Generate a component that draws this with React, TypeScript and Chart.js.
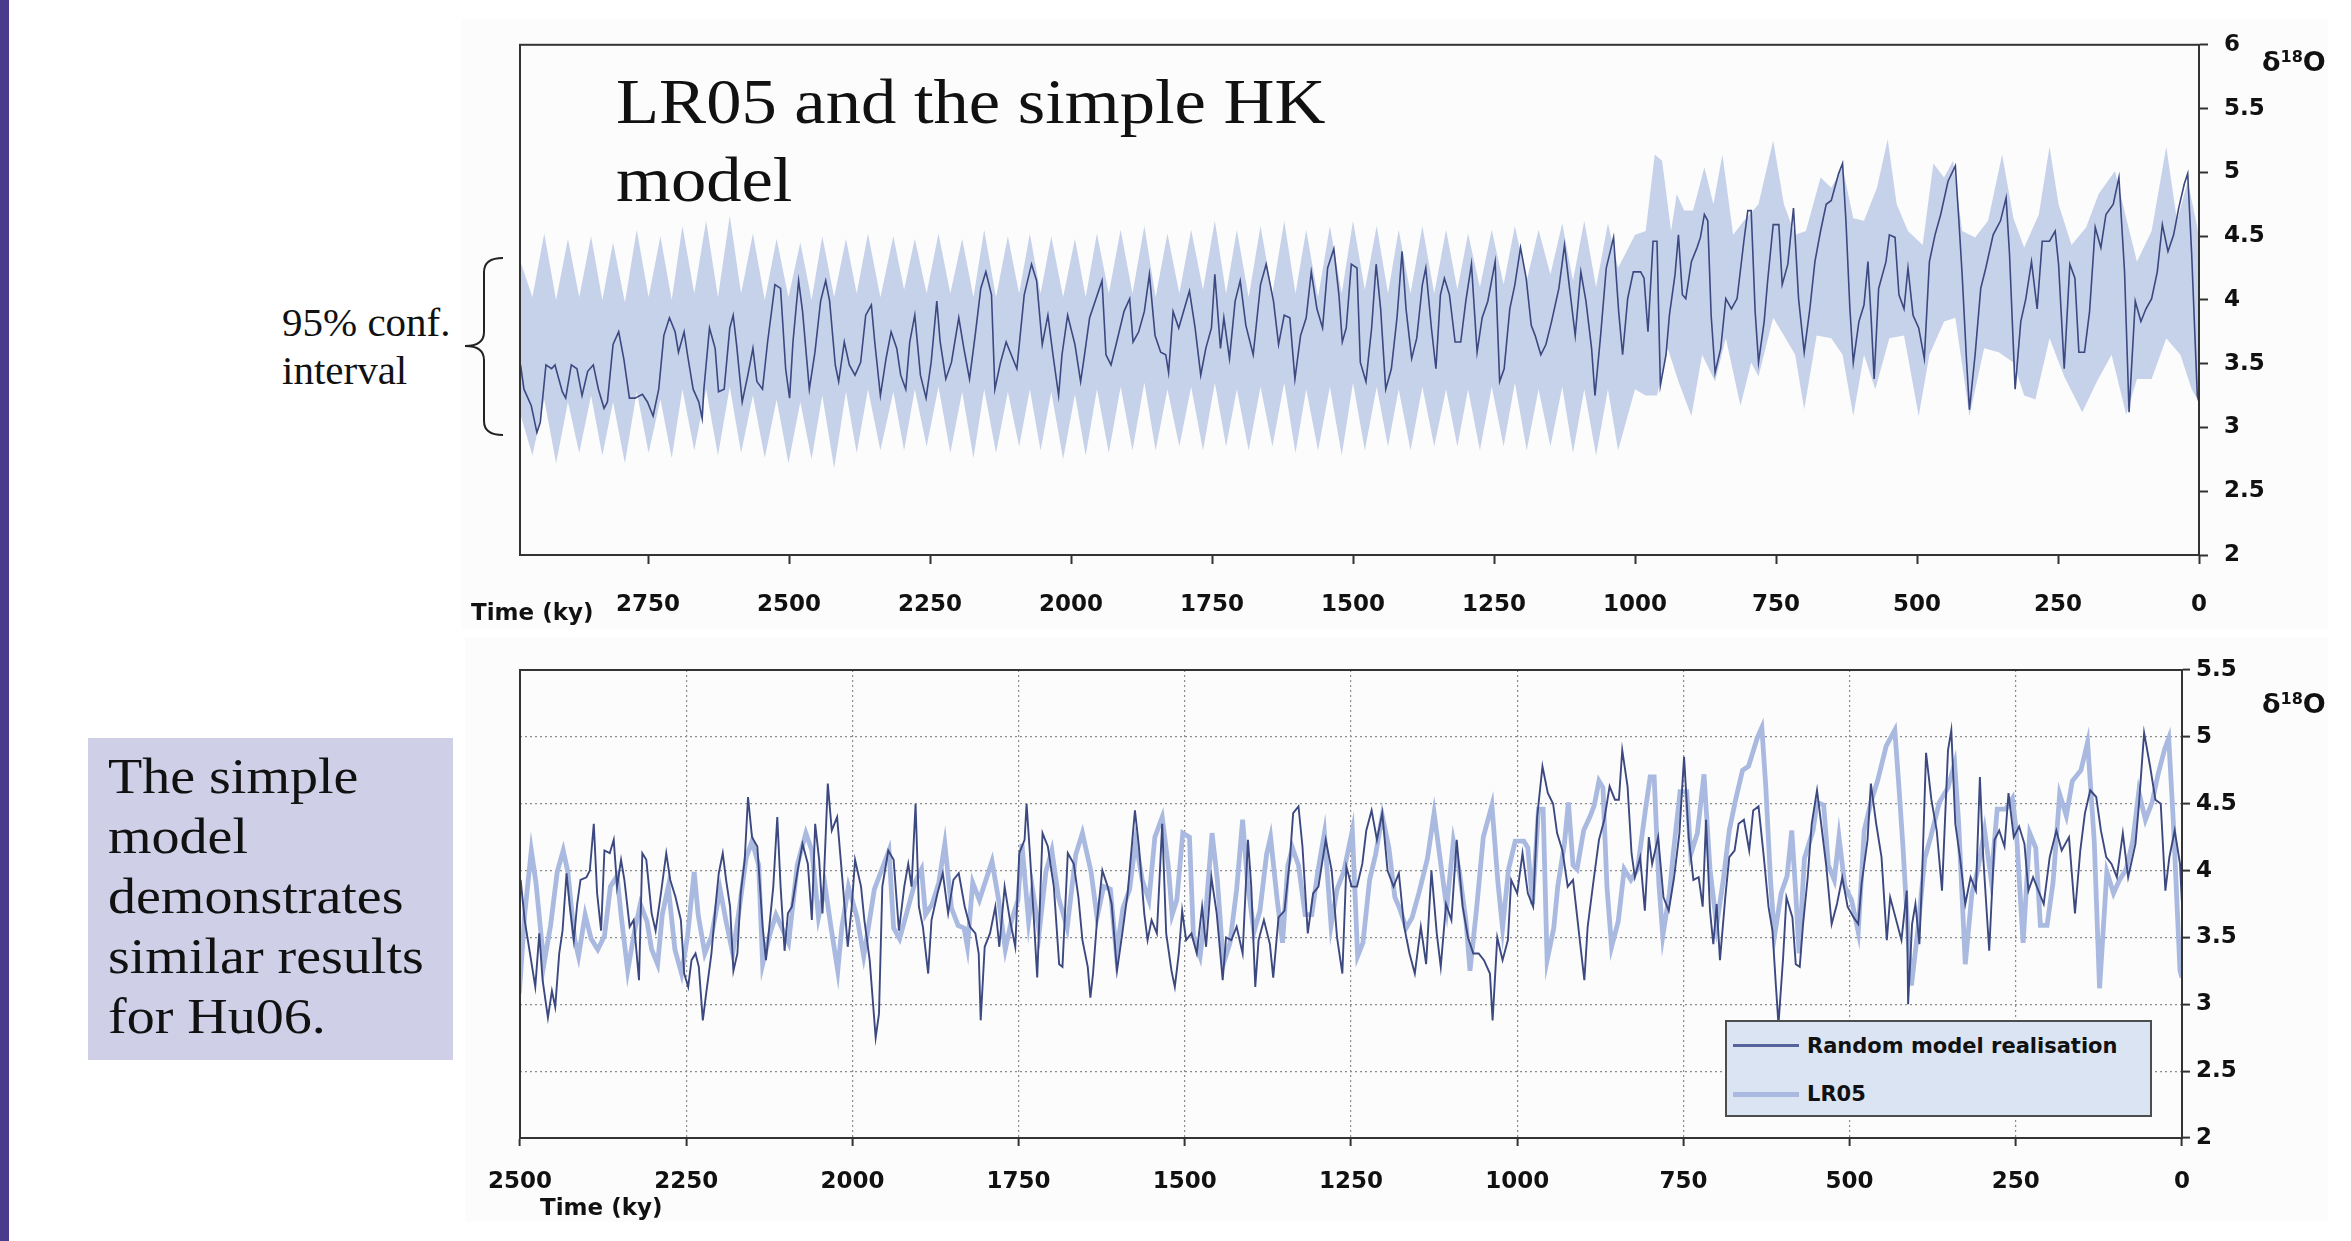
import React, { useEffect, useRef } from 'react';
import { Chart, registerables } from 'chart.js';

Chart.register(...registerables);

// ---------- DATA (ky before present, delta18O) ----------
// LR05 benthic stack (also drawn light in the lower panel)
const lr05: number[][] = [
  [2976,3.49],[2970,3.30],[2957,3.17],[2947,2.96],[2941,3.04],[2931,3.49],[2921,3.46],[2915,3.49],[2902,3.28],[2896,3.23],
  [2886,3.49],[2876,3.46],[2867,3.25],[2857,3.44],[2847,3.49],[2838,3.30],[2828,3.15],[2822,3.20],[2812,3.65],[2802,3.75],
  [2793,3.54],[2783,3.23],[2773,3.23],[2760,3.26],[2751,3.20],[2741,3.09],[2731,3.30],[2722,3.72],[2712,3.86],[2702,3.75],
  [2696,3.59],[2686,3.75],[2680,3.57],[2670,3.30],[2660,3.20],[2654,3.07],[2651,3.30],[2641,3.78],[2631,3.62],[2625,3.28],
  [2615,3.30],[2605,3.78],[2599,3.88],[2593,3.65],[2583,3.20],[2573,3.41],[2564,3.62],[2557,3.36],[2547,3.30],[2538,3.67],
  [2531,3.91],[2525,4.12],[2515,4.09],[2506,3.46],[2499,3.23],[2493,3.67],[2483,4.15],[2476,3.91],[2464,3.30],[2454,3.59],
  [2444,3.99],[2435,4.15],[2428,3.99],[2418,3.49],[2412,3.36],[2402,3.67],[2393,3.49],[2383,3.41],[2373,3.51],[2364,3.88],
  [2354,3.96],[2348,3.67],[2338,3.25],[2328,3.54],[2319,3.75],[2309,3.62],[2302,3.41],[2293,3.30],[2286,3.67],[2277,3.88],
  [2267,3.41],[2257,3.23],[2248,3.51],[2238,3.99],[2232,3.67],[2222,3.38],[2212,3.51],[2199,3.86],[2190,3.62],[2180,3.38],
  [2170,3.72],[2160,4.09],[2151,4.22],[2141,4.04],[2135,3.30],[2125,3.51],[2115,3.67],[2106,3.57],[2096,3.46],[2083,4.04],
  [2070,4.28],[2061,4.15],[2051,3.65],[2041,3.88],[2032,3.57],[2022,3.25],[2016,3.57],[2006,3.88],[1993,3.65],[1983,3.36],
  [1977,3.54],[1967,3.86],[1945,4.15],[1938,3.57],[1929,3.49],[1919,3.67],[1906,3.91],[1896,4.01],[1890,3.67],[1880,3.75],
  [1870,3.91],[1861,4.20],[1851,3.72],[1841,3.59],[1832,3.57],[1827,3.43],[1819,3.91],[1809,3.78],[1790,4.07],[1780,3.78],
  [1770,3.41],[1761,3.62],[1751,3.78],[1745,4.20],[1735,3.62],[1729,3.86],[1719,3.54],[1709,3.99],[1700,4.15],[1690,3.80],
  [1677,3.57],[1664,4.12],[1654,4.28],[1641,3.99],[1632,3.65],[1622,3.88],[1612,3.86],[1603,3.38],[1593,3.72],[1583,3.86],
  [1574,4.22],[1564,3.93],[1554,3.78],[1545,4.25],[1534,4.40],[1525,4.04],[1519,3.67],[1512,3.78],[1503,4.28],[1493,4.25],
  [1487,3.51],[1477,3.36],[1467,3.78],[1459,4.28],[1451,3.93],[1442,3.30],[1432,3.46],[1422,3.86],[1413,4.38],[1406,3.93],
  [1396,3.54],[1387,3.70],[1377,4.12],[1371,4.25],[1361,3.78],[1353,3.46],[1345,4.04],[1338,4.17],[1329,4.04],[1319,3.67],
  [1309,3.67],[1300,3.99],[1290,4.28],[1280,3.59],[1271,3.86],[1261,3.99],[1248,4.30],[1240,3.36],[1232,3.46],[1222,3.93],
  [1213,4.12],[1203,4.41],[1193,4.17],[1184,3.80],[1177,3.72],[1167,3.57],[1158,3.65],[1148,3.83],[1135,4.09],[1125,4.43],
  [1116,4.09],[1106,3.72],[1096,4.22],[1087,3.99],[1077,3.62],[1071,3.25],[1061,3.72],[1051,4.25],[1038,4.49],[1029,3.91],
  [1022,3.57],[1013,4.01],[1003,4.22],[990,4.22],[984,4.17],[977,3.75],[968,4.46],[961,4.46],[955,3.33],[945,3.57],
  [939,3.88],[929,4.20],[923,4.51],[916,4.04],[910,4.01],[900,4.30],[890,4.41],[884,4.49],[877,4.67],[871,4.62],
  [865,3.88],[858,3.43],[848,3.62],[839,4.01],[829,3.93],[819,4.01],[807,4.46],[800,4.70],[794,4.70],[787,3.91],
  [781,3.51],[771,3.83],[765,4.14],[755,4.59],[745,4.59],[739,4.12],[729,4.28],[719,4.72],[710,4.01],[700,3.59],
  [690,3.93],[681,4.30],[671,4.54],[661,4.75],[652,4.78],[639,4.99],[632,5.07],[626,4.62],[619,3.93],[613,3.51],
  [603,3.83],[594,3.96],[587,4.30],[581,3.83],[576,3.38],[568,4.09],[555,4.30],[549,4.51],[539,4.49],[532,4.04],
  [523,3.93],[516,4.25],[507,3.88],[497,3.78],[487,3.54],[478,4.30],[468,4.51],[458,4.67],[445,4.93],[432,5.05],
  [426,4.64],[420,4.20],[412,3.51],[407,3.14],[397,3.57],[387,4.09],[378,4.25],[365,4.51],[352,4.62],[342,4.80],
  [336,4.36],[326,3.30],[316,3.83],[307,4.01],[297,4.30],[287,3.93],[278,4.46],[265,4.46],[255,4.54],[249,4.28],
  [239,3.46],[229,4.28],[220,4.17],[213,3.59],[203,3.59],[194,3.91],[184,4.57],[174,4.41],[165,4.67],[152,4.75],
  [142,4.96],[132,4.22],[124,3.12],[113,3.99],[103,3.83],[94,3.93],[84,4.01],[74,4.22],[65,4.59],[55,4.38],
  [45,4.51],[36,4.72],[26,4.91],[20,4.99],[13,4.36],[3,3.25],[0,3.20],
];

// 95% confidence interval of the simple HK model (upper / lower edge)
const bandUpper: number[][] = [
  [2976,4.30],[2955,4.02],[2934,4.52],[2913,4.00],[2892,4.48],[2872,4.02],[2851,4.50],[2831,4.00],[2812,4.45],[2791,3.98],
  [2770,4.55],[2749,4.02],[2728,4.50],[2708,4.00],[2689,4.58],[2668,4.05],[2647,4.62],[2626,4.02],[2605,4.66],[2585,4.05],
  [2564,4.52],[2543,4.00],[2522,4.48],[2501,4.02],[2480,4.45],[2460,4.00],[2441,4.50],[2420,4.02],[2399,4.48],[2380,4.05],
  [2360,4.52],[2338,4.02],[2315,4.50],[2296,4.08],[2277,4.48],[2256,4.05],[2235,4.52],[2214,4.05],[2193,4.48],[2173,4.02],
  [2154,4.55],[2133,4.02],[2112,4.50],[2092,4.05],[2073,4.52],[2054,4.05],[2035,4.50],[2014,4.02],[1993,4.48],[1974,4.02],
  [1954,4.52],[1933,4.05],[1912,4.55],[1891,4.05],[1870,4.58],[1850,4.02],[1829,4.52],[1808,4.05],[1787,4.55],[1766,4.08],
  [1745,4.62],[1725,4.05],[1706,4.55],[1685,4.02],[1664,4.58],[1643,4.05],[1622,4.62],[1602,4.05],[1583,4.55],[1562,4.02],
  [1541,4.58],[1520,4.05],[1500,4.62],[1479,4.08],[1458,4.58],[1438,4.05],[1419,4.55],[1398,4.05],[1377,4.58],[1356,4.05],
  [1335,4.55],[1315,4.08],[1296,4.52],[1275,4.10],[1254,4.55],[1233,4.12],[1213,4.58],[1192,4.15],[1171,4.55],[1150,4.20],
  [1129,4.60],[1110,4.15],[1090,4.62],[1069,4.10],[1048,4.60],[1030,4.25],
  [1000,4.51],[981,4.54],[965,5.14],[952,5.09],[936,4.54],[926,4.83],[913,4.70],[897,4.70],[877,5.04],[861,4.75],
  [845,5.14],[826,4.51],[807,4.62],[781,4.75],[755,5.25],[736,4.75],[716,4.51],[697,4.54],[671,4.96],[652,4.88],
  [632,5.04],[613,4.64],[594,4.62],[571,4.88],[552,5.26],[536,4.75],[516,4.54],[490,4.43],[471,5.07],[452,4.96],
  [436,5.09],[420,4.54],[397,4.49],[374,4.62],[349,5.14],[329,4.64],[310,4.41],[284,4.67],[265,5.20],[249,4.75],
  [226,4.43],[200,4.57],[178,4.83],[149,5.01],[129,4.64],[110,4.30],[84,4.54],[58,5.20],[39,4.62],[20,4.93],
  [3,4.57],[0,4.45],
];
const bandLower: number[][] = [
  [2976,3.10],[2955,2.78],[2934,3.22],[2913,2.72],[2892,3.20],[2872,2.80],[2851,3.25],[2831,2.78],[2812,3.20],[2791,2.72],
  [2770,3.28],[2749,2.80],[2728,3.22],[2708,2.76],[2689,3.30],[2668,2.82],[2647,3.30],[2626,2.78],[2605,3.32],[2585,2.80],
  [2564,3.25],[2543,2.76],[2522,3.22],[2501,2.72],[2480,3.20],[2460,2.75],[2441,3.25],[2420,2.68],[2399,3.28],[2380,2.80],
  [2360,3.30],[2338,2.82],[2315,3.28],[2296,2.82],[2277,3.30],[2256,2.85],[2235,3.32],[2214,2.80],[2193,3.28],[2173,2.76],
  [2154,3.30],[2133,2.80],[2112,3.28],[2092,2.85],[2073,3.30],[2054,2.82],[2035,3.28],[2014,2.75],[1993,3.26],[1974,2.78],
  [1954,3.30],[1933,2.80],[1912,3.32],[1891,2.82],[1870,3.35],[1850,2.82],[1829,3.30],[1808,2.85],[1787,3.32],[1766,2.82],
  [1745,3.35],[1725,2.85],[1706,3.30],[1685,2.82],[1664,3.32],[1643,2.85],[1622,3.35],[1602,2.80],[1583,3.30],[1562,2.82],
  [1541,3.32],[1520,2.78],[1500,3.35],[1479,2.82],[1458,3.32],[1438,2.85],[1419,3.30],[1398,2.82],[1377,3.32],[1356,2.85],
  [1335,3.30],[1315,2.85],[1296,3.30],[1275,2.82],[1254,3.32],[1233,2.85],[1213,3.35],[1192,2.82],[1171,3.30],[1150,2.85],
  [1129,3.32],[1110,2.80],[1090,3.30],[1069,2.78],[1048,3.30],[1030,2.82],
  [1000,3.30],[981,3.25],[961,3.25],[942,3.62],[923,3.36],[900,3.09],[881,3.57],[858,3.36],[839,3.70],[813,3.17],
  [794,3.51],[781,3.40],[755,3.86],[736,3.72],[716,3.57],[700,3.14],[678,3.72],[652,3.70],[632,3.57],[613,3.09],
  [594,3.57],[574,3.30],[549,3.70],[523,3.72],[497,3.09],[478,3.57],[452,3.83],[432,3.86],[407,3.09],[381,3.62],
  [355,3.59],[329,3.51],[310,3.25],[290,3.22],[265,3.70],[239,3.40],[207,3.12],[181,3.36],[155,3.57],[129,3.10],
  [110,3.38],[84,3.38],[58,3.70],[33,3.57],[13,3.30],[0,3.20],
];

// One random realisation of the simple model (lower panel, dark line)
const randomModel: number[][] = [
  [2499,3.93],[2493,3.63],[2485,3.38],[2477,3.13],[2471,3.53],[2466,3.18],[2458,2.90],[2452,3.10],[2447,2.98],[2441,3.38],
  [2436,3.55],[2430,3.98],[2425,3.73],[2419,3.48],[2414,3.75],[2409,3.93],[2400,3.95],[2395,4.00],[2389,4.35],[2384,3.83],
  [2378,3.55],[2373,4.15],[2365,4.13],[2359,4.23],[2354,3.88],[2348,4.08],[2343,3.93],[2335,3.58],[2329,3.63],[2321,3.18],
  [2316,4.13],[2310,4.08],[2302,3.68],[2296,3.55],[2288,3.83],[2280,4.13],[2274,3.93],[2266,3.80],[2258,3.63],[2253,3.23],
  [2247,3.13],[2242,3.33],[2236,3.38],[2231,3.28],[2225,2.88],[2220,3.08],[2212,3.38],[2206,3.73],[2201,3.98],[2195,4.13],
  [2190,3.93],[2184,3.73],[2179,3.25],[2173,3.38],[2168,3.83],[2162,4.08],[2157,4.55],[2151,4.25],[2143,4.18],[2135,3.58],
  [2130,3.33],[2124,3.63],[2119,3.88],[2113,4.40],[2108,3.88],[2102,3.40],[2097,3.68],[2091,3.73],[2083,3.98],[2075,4.20],
  [2067,4.05],[2061,3.63],[2056,4.35],[2050,4.08],[2045,3.68],[2037,4.65],[2031,4.30],[2023,4.40],[2015,3.93],[2007,3.43],
  [2001,3.73],[1996,4.08],[1987,3.88],[1982,3.63],[1974,3.33],[1965,2.75],[1960,2.93],[1955,3.88],[1946,4.15],[1938,4.08],
  [1930,3.55],[1922,3.88],[1916,4.05],[1911,3.88],[1905,4.50],[1900,3.73],[1894,3.58],[1886,3.23],[1881,3.63],[1872,3.83],
  [1864,3.98],[1856,3.68],[1848,3.93],[1840,3.98],[1831,3.73],[1823,3.58],[1815,3.53],[1810,3.38],[1807,2.88],[1801,3.43],
  [1793,3.53],[1785,3.73],[1779,3.43],[1771,3.88],[1763,3.63],[1755,3.43],[1749,4.13],[1741,4.23],[1738,4.50],[1733,4.13],
  [1727,3.63],[1722,3.20],[1714,4.28],[1706,4.18],[1697,3.88],[1689,3.30],[1684,3.28],[1676,4.13],[1667,4.05],[1660,3.80],
  [1654,3.48],[1646,3.28],[1642,3.05],[1638,3.23],[1632,3.63],[1624,4.00],[1616,3.88],[1610,3.75],[1602,3.25],[1594,3.53],
  [1586,3.83],[1575,4.45],[1569,4.18],[1561,3.68],[1556,3.48],[1550,3.63],[1542,3.53],[1534,4.35],[1528,3.53],[1520,3.25],
  [1515,3.13],[1509,3.38],[1504,3.70],[1498,3.48],[1490,3.53],[1482,3.38],[1474,3.73],[1468,3.43],[1460,3.95],[1452,3.68],
  [1443,3.18],[1438,3.50],[1430,3.48],[1422,3.58],[1413,3.38],[1405,4.23],[1400,3.88],[1394,3.13],[1389,3.48],[1381,3.63],
  [1372,3.45],[1367,3.20],[1359,3.65],[1350,3.70],[1342,4.08],[1337,4.43],[1329,4.48],[1323,4.18],[1315,3.53],[1307,3.83],
  [1299,3.88],[1288,4.23],[1279,4.00],[1271,3.50],[1263,3.23],[1257,4.03],[1249,3.88],[1241,3.88],[1233,4.05],[1227,4.30],
  [1219,4.45],[1211,4.23],[1203,4.43],[1195,4.00],[1186,3.88],[1178,3.98],[1170,3.58],[1162,3.38],[1154,3.23],[1145,3.58],
  [1137,3.30],[1129,4.00],[1121,3.53],[1115,3.28],[1107,3.75],[1099,3.63],[1091,4.23],[1082,3.73],[1074,3.50],[1066,3.38],
  [1058,3.38],[1050,3.33],[1041,3.23],[1037,2.88],[1030,3.50],[1022,3.33],[1014,3.48],[1009,3.93],[1000,3.83],[992,4.13],
  [984,3.83],[976,3.73],[970,4.40],[962,4.78],[954,4.58],[946,4.50],[940,4.28],[932,4.15],[924,3.88],[916,3.93],
  [907,3.53],[899,3.18],[894,3.58],[885,3.93],[877,4.23],[869,4.38],[861,4.63],[853,4.53],[847,4.53],[842,4.90],
  [834,4.63],[828,4.13],[823,3.95],[815,4.10],[808,3.70],[802,4.25],[797,4.05],[788,4.25],[780,3.80],[772,3.70],
  [764,3.95],[756,4.28],[749,4.85],[742,4.25],[735,3.93],[727,3.95],[721,3.73],[716,4.38],[710,3.70],[705,3.45],
  [700,3.75],[695,3.33],[687,3.80],[681,4.10],[673,4.15],[667,4.35],[659,4.38],[651,4.15],[645,4.45],[637,4.48],
  [629,4.10],[622,3.73],[616,3.55],[611,3.15],[607,2.85],[600,3.35],[595,3.80],[586,3.65],[581,3.30],[575,3.28],
  [570,3.60],[563,3.95],[557,4.35],[549,4.60],[544,4.40],[535,4.03],[527,3.60],[519,3.75],[511,3.95],[503,3.73],
  [494,3.65],[487,3.60],[482,3.90],[473,4.23],[468,4.65],[460,4.35],[452,4.10],[444,3.48],[439,3.80],[431,3.65],
  [422,3.48],[414,3.85],[412,3.00],[406,3.60],[401,3.75],[395,3.45],[391,3.95],[385,4.88],[377,4.53],[369,4.30],
  [361,3.85],[352,4.90],[347,5.05],[341,4.35],[334,4.10],[326,3.75],[318,3.95],[310,3.85],[304,4.70],[299,4.10],
  [290,3.40],[282,4.23],[275,4.30],[267,4.18],[261,4.58],[253,4.25],[245,4.33],[237,4.20],[231,3.85],[224,3.95],
  [216,3.85],[208,3.75],[199,4.10],[189,4.30],[181,4.15],[170,4.25],[161,3.68],[153,4.15],[146,4.43],[138,4.60],
  [129,4.55],[122,4.30],[114,4.10],[106,4.05],[98,3.95],[89,4.28],[81,3.95],[70,4.20],[65,4.48],[57,5.03],
  [48,4.78],[40,4.53],[32,4.50],[25,3.85],[19,4.10],[11,4.30],[3,4.05],[0,3.75],
];

const TOP_X_TICKS = [0, 250, 500, 750, 1000, 1250, 1500, 1750, 2000, 2250, 2500, 2750];
const BOTTOM_X_TICKS = [0, 250, 500, 750, 1000, 1250, 1500, 1750, 2000, 2250, 2500];
const TOP_Y_TICKS = [2, 2.5, 3, 3.5, 4, 4.5, 5, 5.5, 6];
const BOTTOM_Y_TICKS = [2, 2.5, 3, 3.5, 4, 4.5, 5, 5.5];
const TOP_X_MAX = 2977;
const BOTTOM_X_MAX = 2500;

const LEGEND_LABELS = ['Random model realisation', 'LR05'];

// ---------- STYLE ----------
const DARK = '#3c4880';
const LIGHT = '#a9b9e0';
const BAND = '#c6d1ea';
const AXIS = '#333333';
const TICK_FONT = { family: "'DejaVu Sans', sans-serif", weight: 'bold' as const, size: 23 };
const SERIF = "'Liberation Serif', 'Times New Roman', serif";
const SANS_BOLD = "'DejaVu Sans', sans-serif";

const toPts = (arr: number[][]) => arr.map(([x, y]) => ({ x, y }));
const fixTicks = (list: number[]) => (s: any) => { s.ticks = list.map((value) => ({ value })); };

const framePlugin = {
  id: 'frame',
  afterDatasetsDraw(chart: any) {
    const { ctx, chartArea: a } = chart;
    ctx.save();
    ctx.strokeStyle = AXIS;
    ctx.lineWidth = 2;
    ctx.strokeRect(a.left, a.top, a.right - a.left, a.bottom - a.top);
    ctx.restore();
  },
};

function TopChart() {
  const ref = useRef<HTMLCanvasElement | null>(null);
  useEffect(() => {
    if (!ref.current) return;
    const chart = new Chart(ref.current, {
      type: 'line',
      data: {
        datasets: [
          { label: 'lower', data: toPts(bandLower), borderWidth: 0, borderColor: 'rgba(0,0,0,0)', backgroundColor: BAND, pointRadius: 0, fill: false, order: 2 },
          { label: 'upper', data: toPts(bandUpper), borderWidth: 0, borderColor: 'rgba(0,0,0,0)', backgroundColor: BAND, pointRadius: 0, fill: '-1', order: 1 },
          { label: 'LR05', data: toPts(lr05), borderWidth: 1.6, borderColor: DARK, pointRadius: 0, fill: false, order: 0 },
        ],
      },
      options: {
        animation: false,
        responsive: false,
        events: [],
        layout: { padding: { left: 50, top: 20, right: 0, bottom: 0 } },
        plugins: { legend: { display: false }, tooltip: { enabled: false } },
        scales: {
          x: {
            type: 'linear', min: 0, max: TOP_X_MAX, reverse: true,
            afterBuildTicks: fixTicks(TOP_X_TICKS),
            ticks: { autoSkip: false, maxRotation: 0, minRotation: 0, padding: 27, color: '#111', font: TICK_FONT, callback: (v: any) => String(v) },
            grid: { drawOnChartArea: false, drawTicks: true, tickLength: 9, tickColor: AXIS, tickWidth: 2 },
            border: { display: true, color: AXIS, width: 2 },
            afterFit: (s: any) => { s.height = 100; },
          },
          y: {
            type: 'linear', position: 'right', min: 2, max: 6,
            afterBuildTicks: fixTicks(TOP_Y_TICKS),
            ticks: { autoSkip: false, padding: 16, color: '#111', font: TICK_FONT, callback: (v: any) => String(v) },
            grid: { drawOnChartArea: false, drawTicks: true, tickLength: 9, tickColor: AXIS, tickWidth: 2 },
            border: { display: true, color: AXIS, width: 2 },
            afterFit: (s: any) => { s.width = 141; },
          },
        },
      },
      plugins: [framePlugin],
    } as any);
    return () => chart.destroy();
  }, []);
  return <canvas ref={ref} width={1870} height={640} style={{ position: 'absolute', left: 470, top: 15, width: 1870, height: 640 }} />;
}

function BottomChart() {
  const ref = useRef<HTMLCanvasElement | null>(null);
  useEffect(() => {
    if (!ref.current) return;
    const chart = new Chart(ref.current, {
      type: 'line',
      data: {
        datasets: [
          { label: LEGEND_LABELS[0], data: toPts(randomModel), borderWidth: 1.9, borderColor: DARK, pointRadius: 0, fill: false, order: 0 },
          { label: LEGEND_LABELS[1], data: toPts(lr05), borderWidth: 4.8, borderColor: LIGHT, pointRadius: 0, fill: false, order: 1 },
        ],
      },
      options: {
        animation: false,
        responsive: false,
        events: [],
        layout: { padding: { left: 50, top: 30, right: 0, bottom: 0 } },
        plugins: { legend: { display: false }, tooltip: { enabled: false } },
        scales: {
          x: {
            type: 'linear', min: 0, max: BOTTOM_X_MAX, reverse: true,
            afterBuildTicks: fixTicks(BOTTOM_X_TICKS),
            ticks: { autoSkip: false, maxRotation: 0, minRotation: 0, padding: 22, color: '#111', font: TICK_FONT, callback: (v: any) => String(v) },
            grid: { drawOnChartArea: true, color: '#8c8c8c', lineWidth: 1.2, drawTicks: true, tickLength: 8, tickColor: AXIS, tickWidth: 2 },
            border: { display: true, color: AXIS, width: 2, dash: [2, 3] },
            afterFit: (s: any) => { s.height = 102; },
          },
          y: {
            type: 'linear', position: 'right', min: 2, max: 5.5,
            afterBuildTicks: fixTicks(BOTTOM_Y_TICKS),
            ticks: { autoSkip: false, padding: 6, color: '#111', font: TICK_FONT, callback: (v: any) => String(v) },
            grid: { drawOnChartArea: true, color: '#8c8c8c', lineWidth: 1.2, drawTicks: true, tickLength: 8, tickColor: AXIS, tickWidth: 2 },
            border: { display: true, color: AXIS, width: 2, dash: [2, 3] },
            afterFit: (s: any) => { s.width = 158; },
          },
        },
      },
      plugins: [framePlugin],
    } as any);
    return () => chart.destroy();
  }, []);
  return <canvas ref={ref} width={1870} height={600} style={{ position: 'absolute', left: 470, top: 640, width: 1870, height: 600 }} />;
}

function Delta({ left, top }: { left: number; top: number }) {
  return (
    <div style={{ position: 'absolute', left, top, font: `bold 27px ${SANS_BOLD}`, color: '#111', whiteSpace: 'nowrap', lineHeight: '32px' }}>
      δ<span style={{ fontSize: 16, position: 'relative', top: -9 }}>18</span>O
    </div>
  );
}

export default function App() {
  return (
    <div style={{ position: 'absolute', left: 0, top: 0, width: 2351, height: 1241, background: '#ffffff', overflow: 'hidden' }}>
      <div style={{ position: 'absolute', left: 0, top: 0, width: 9, height: 1241, background: '#4a3b8c' }} />
      <div style={{ position: 'absolute', left: 462, top: 18, width: 1866, height: 612, background: '#fcfcfc' }} />
      <div style={{ position: 'absolute', left: 465, top: 637, width: 1863, height: 585, background: '#fcfcfc' }} />

      <TopChart />
      <BottomChart />

      {/* title inside upper chart */}
      <div style={{ position: 'absolute', left: 616, top: 63, font: `63px ${SERIF}`, lineHeight: '78px', color: '#111', transform: 'scaleX(1.12)', transformOrigin: 'left top', whiteSpace: 'nowrap' }}>
        LR05 and the simple HK<br />model
      </div>

      {/* confidence interval annotation */}
      <div style={{ position: 'absolute', left: 282, top: 298, font: `41px ${SERIF}`, lineHeight: '48px', color: '#111', whiteSpace: 'nowrap' }}>
        95% conf.<br />interval
      </div>
      <svg style={{ position: 'absolute', left: 0, top: 0 }} width={600} height={500}>
        <path d="M 503 258 Q 484 258 484 272 L 484 332 Q 484 346 465 346 Q 484 346 484 360 L 484 421 Q 484 435 503 435" fill="none" stroke="#222" strokeWidth={2} />
      </svg>

      {/* axis titles */}
      <div style={{ position: 'absolute', left: 471, top: 599, font: `bold 23px ${SANS_BOLD}`, color: '#111', whiteSpace: 'nowrap' }}>Time (ky)</div>
      <div style={{ position: 'absolute', left: 540, top: 1194, font: `bold 23px ${SANS_BOLD}`, color: '#111', whiteSpace: 'nowrap' }}>Time (ky)</div>
      <Delta left={2262} top={46} />
      <Delta left={2262} top={688} />

      {/* legend of lower chart */}
      <div style={{ position: 'absolute', left: 1725, top: 1020, width: 427, height: 97, boxSizing: 'border-box', border: '2px solid #4d4d4d', background: '#dbe4f2' }}>
        <div style={{ position: 'absolute', left: 6, top: 22, width: 66, height: 3, background: '#56639a' }} />
        <div style={{ position: 'absolute', left: 80, top: 9, font: `bold 21px ${SANS_BOLD}`, color: '#111', whiteSpace: 'nowrap', lineHeight: '30px' }}>{LEGEND_LABELS[0]}</div>
        <div style={{ position: 'absolute', left: 6, top: 70, width: 66, height: 5, background: LIGHT }} />
        <div style={{ position: 'absolute', left: 80, top: 57, font: `bold 21px ${SANS_BOLD}`, color: '#111', whiteSpace: 'nowrap', lineHeight: '30px' }}>{LEGEND_LABELS[1]}</div>
      </div>

      {/* side text box */}
      <div style={{ position: 'absolute', left: 88, top: 738, width: 365, height: 322, background: '#cfcfe7' }}>
        <div style={{ position: 'absolute', left: 20, top: 8, font: `50px ${SERIF}`, lineHeight: '60px', color: '#111', transform: 'scaleX(1.12)', transformOrigin: 'left top', whiteSpace: 'nowrap' }}>
          The simple<br />model<br />demonstrates<br />similar results<br />for Hu06.
        </div>
      </div>
    </div>
  );
}
